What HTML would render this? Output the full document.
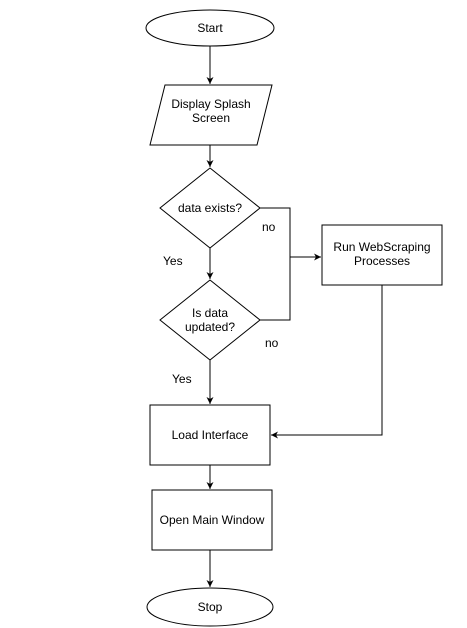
<!DOCTYPE html>
<html><head><meta charset="utf-8"><style>html,body{margin:0;padding:0;background:#fff}svg{display:block}text{font-family:"Liberation Sans",Arial,sans-serif;font-size:12px;fill:#000}</style></head><body>
<svg width="467" height="628" viewBox="0 0 467 628" xmlns="http://www.w3.org/2000/svg">
<defs><marker id="a" markerWidth="8" markerHeight="8" refX="7" refY="4" orient="auto" markerUnits="userSpaceOnUse"><path d="M0,0.5 L7,4 L0,7.5 L2,4 Z" fill="#000"/></marker></defs>
<g fill="#fff" stroke="#000" stroke-width="1">
<ellipse cx="210" cy="28" rx="64" ry="18"/>
<polygon points="165,85 272,85 257,145 150,145"/>
<polygon points="210,168 260,208 210,248 160,208"/>
<polygon points="210,280 260,320 210,360 160,320"/>
<rect x="322" y="225" width="120" height="60"/>
<rect x="150" y="405" width="120" height="60"/>
<rect x="152" y="490" width="120" height="60"/>
<ellipse cx="210" cy="607" rx="63" ry="19"/>
</g>
<g fill="none" stroke="#000" stroke-width="1">
<path d="M210,46 V84" marker-end="url(#a)"/>
<path d="M210,145 V167" marker-end="url(#a)"/>
<path d="M210,248 V279" marker-end="url(#a)"/>
<path d="M210,360 V404" marker-end="url(#a)"/>
<path d="M210,465 V489" marker-end="url(#a)"/>
<path d="M210,550 V587" marker-end="url(#a)"/>
<path d="M260,208 H290 V320 H260"/>
<path d="M290,257 H321" marker-end="url(#a)"/>
<path d="M382,285 V435 H271" marker-end="url(#a)"/>
</g>
<g text-anchor="middle">
<text x="210" y="32">Start</text>
<text x="211" y="108">Display Splash</text>
<text x="211" y="122">Screen</text>
<text x="210" y="212">data exists?</text>
<text x="210" y="317">Is data</text>
<text x="210" y="331">updated?</text>
<text x="382" y="251">Run WebScraping</text>
<text x="382" y="265">Processes</text>
<text x="210" y="439">Load Interface</text>
<text x="212" y="524">Open Main Window</text>
<text x="210" y="611">Stop</text>
</g>
<text x="262" y="231">no</text>
<text x="265" y="347">no</text>
<text x="163" y="265">Yes</text>
<text x="172" y="383">Yes</text>
</svg>
</body></html>
